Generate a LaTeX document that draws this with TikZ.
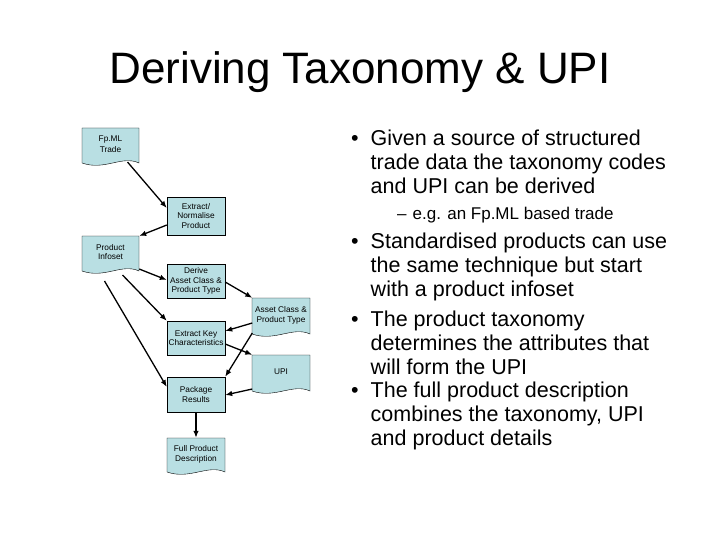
\documentclass[tikz,border=0pt]{standalone}
\usepackage{fontspec}
\setmainfont{Liberation Sans}
\usetikzlibrary{arrows.meta}
\begin{document}
\begin{tikzpicture}[x=1pt,y=-1pt,
  box/.style={draw,fill=boxc,minimum width=58pt,align=center,font=\fontsize{8.3}{9.6}\selectfont,inner sep=1pt},
  lbl/.style={align=center,font=\fontsize{8.3}{9.6}\selectfont,inner sep=0pt,minimum width=57pt},
  arr/.style={-{Latex[length=7pt,width=5.5pt]},line width=1.3pt},
  bul/.style={anchor=north west,align=left,font=\fontsize{21.5}{24}\selectfont,inner sep=0pt}]
\definecolor{boxc}{HTML}{B9DFE3}
\useasboundingbox (0,0) rectangle (720,540);
\node[font=\fontsize{44}{48}\selectfont] (title) at (360,72) {Deriving Taxonomy \& UPI};
% document shapes
\def\docshape#1#2#3#4{\draw[fill=boxc] (#1,#3) -- (#2,#3) -- (#2,#4) .. controls ({#2-0.3*(#2-#1)},{#4-8}) and ({#1+0.4*(#2-#1)},{#4+8}) .. (#1,#4) -- cycle;}
\docshape{82}{139}{128}{163}
\docshape{82}{139}{236}{271}
\docshape{252}{310}{298}{334}
\docshape{252}{310}{355}{391}
\docshape{167}{225}{438}{472}
\node[lbl,minimum height=35pt] (fp) at (110.5,145.5) {\raisebox{3pt}{\shortstack{Fp.ML\\Trade}}};
\node[lbl,minimum height=35pt] (inf) at (110.5,253.5) {\raisebox{3pt}{\shortstack{Product\\Infoset}}};
\node[lbl,minimum height=36pt] (ac) at (281,316) {\raisebox{3pt}{\shortstack{Asset Class \&\\Product Type}}};
\node[lbl,minimum height=36pt] (upi) at (281,373) {\raisebox{3pt}{UPI}};
\node[lbl,minimum height=34pt] (full) at (196,455) {\raisebox{3pt}{\shortstack{Full Product\\Description}}};
% boxes
\node[box,minimum height=38pt] (ext) at (196,216) {Extract/\\Normalise\\Product};
\node[box,minimum height=34pt] (der) at (196,281) {Derive\\Asset Class \&\\Product Type};
\node[box,minimum height=34pt] (key) at (196,338) {Extract Key\\Characteristics};
\node[box,minimum height=35pt] (pkg) at (196,394.5) {Package\\Results};
% arrows
\draw[arr] (fp.south |- 0,162) ++(17,0) -- (ext.west |- 0,208);
\draw[arr] (ext.west |- 0,225) -- (inf.north east |- 0,236);
\draw[arr] (inf.east |- 0,269) -- (der.west |- 0,280);
\draw[arr] (der.east |- 0,282) -- (ac.north west);
\draw[arr] (inf.south |- 0,275) ++(12,0) -- (key.north west);
\draw[arr] (inf.south |- 0,281) ++(-6,0) -- (pkg.west |- 0,387);
\draw[arr] (ac.west |- 0,323) -- (key.east |- 0,331);
\draw[arr] (key.east |- 0,344) -- (upi.north west);
\draw[arr] (ac.west |- 0,333) -- (pkg.north east);
\draw[arr] (upi.west |- 0,389) -- (pkg.east |- 0,395);
\draw[arr] (pkg.south) -- (full.north);
% bullets
\node[bul] (b1) at (351,130) {•\hspace{12pt}\parbox[t]{320pt}{Given a source of structured\\trade data the taxonomy codes\\and UPI can be derived}};
\node[bul,font=\fontsize{17}{20}\selectfont] (b1a) at (397,207) {–\hspace{6pt}e.g. an Fp.ML based trade};
\node[bul] (b2) at (351,233) {•\hspace{12pt}\parbox[t]{320pt}{Standardised products can use\\the same technique but start\\with a product infoset}};
\node[bul] (b3) at (351,311) {•\hspace{12pt}\parbox[t]{320pt}{The product taxonomy\\determines the attributes that\\will form the UPI}};
\node[bul] (b4) at (351,382) {•\hspace{12pt}\parbox[t]{320pt}{The full product description\\combines the taxonomy, UPI\\and product details}};
\end{tikzpicture}
\end{document}
